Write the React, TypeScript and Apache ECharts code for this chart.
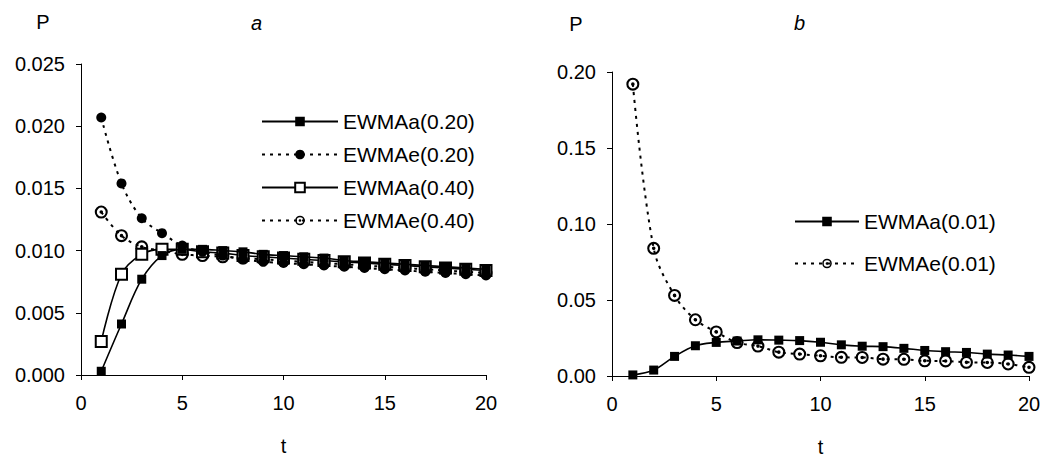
import React, { useEffect, useRef } from "react";
import * as echarts from "echarts";

const tValues = [1, 2, 3, 4, 5, 6, 7, 8, 9, 10, 11, 12, 13, 14, 15, 16, 17, 18, 19, 20];

// Panel a
const ewmaA020 = [0.0003, 0.0041, 0.0077, 0.0096, 0.0101, 0.0101, 0.0100, 0.0099, 0.0097, 0.0096, 0.0095, 0.0094, 0.0092, 0.0091, 0.0090, 0.0089, 0.0088, 0.0087, 0.0086, 0.0085];
const ewmaE020 = [0.0207, 0.0154, 0.0126, 0.0114, 0.0104, 0.0099, 0.0096, 0.0093, 0.0091, 0.0090, 0.0089, 0.0088, 0.0087, 0.0086, 0.0085, 0.0084, 0.0083, 0.0082, 0.0081, 0.0080];
const ewmaA040 = [0.0027, 0.0081, 0.0097, 0.0101, 0.0101, 0.0099, 0.0098, 0.0096, 0.0095, 0.0094, 0.0093, 0.0092, 0.0091, 0.0090, 0.0089, 0.0088, 0.0087, 0.0086, 0.0085, 0.0084];
const ewmaE040 = [0.0131, 0.0112, 0.0103, 0.0100, 0.0097, 0.0096, 0.0095, 0.0094, 0.0093, 0.0092, 0.0091, 0.0090, 0.0089, 0.0088, 0.0087, 0.0086, 0.0085, 0.0084, 0.0083, 0.0082];

// Panel b
const ewmaA001 = [0.0007, 0.0039, 0.0129, 0.0199, 0.0221, 0.0230, 0.0238, 0.0236, 0.0233, 0.0222, 0.0205, 0.0196, 0.0193, 0.0182, 0.0168, 0.0160, 0.0155, 0.0144, 0.0138, 0.0129];
const ewmaE001 = [0.192, 0.084, 0.053, 0.037, 0.029, 0.022, 0.0197, 0.0157, 0.0144, 0.0133, 0.0123, 0.0122, 0.0111, 0.0110, 0.0100, 0.0099, 0.0090, 0.0089, 0.0079, 0.0057];

const xTicks = { min: 0, max: 20, interval: 5 };
const yTicksA = { min: 0, max: 0.025, interval: 0.005 };
const yTicksB = { min: 0, max: 0.2, interval: 0.05 };

const FONT = "'Liberation Sans', Arial, sans-serif";
const RING_DOT =
  "path://M10,0 A10,10 0 1,1 10,20 A10,10 0 1,1 10,0 Z M10,3.2 A6.8,6.8 0 1,0 10,16.8 A6.8,6.8 0 1,0 10,3.2 Z M10,7.2 A2.8,2.8 0 1,1 10,12.8 A2.8,2.8 0 1,1 10,7.2 Z";

const pairs = (vals: number[]) => tValues.map((t, i) => [t, vals[i]]);

export default function App() {
  const ref = useRef<HTMLDivElement>(null);
  useEffect(() => {
    if (!ref.current) return;
    const chart = echarts.init(ref.current, undefined, { renderer: "svg" });
    const axisLine = { show: true, lineStyle: { color: "#000", width: 1 } };
    const axisTick = { show: true, length: 5, lineStyle: { color: "#000", width: 1 } };
    const labelStyle = { color: "#000", fontSize: 20, fontFamily: FONT };
    const xAxisBase = (gridIndex: number) => ({
      type: "value",
      gridIndex,
      ...xTicks,
      name: "t",
      nameLocation: "middle",
      nameGap: 61,
      nameTextStyle: { color: "#000", fontSize: 20, fontFamily: FONT },
      axisLine,
      axisTick,
      splitLine: { show: false },
      axisLabel: { ...labelStyle, margin: 18 },
    });
    const solid = { color: "#000", width: 1.6, type: "solid" };
    const dashed = { color: "#000", width: 2, type: [3, 5] };
    const option: any = {
      animation: false,
      backgroundColor: "#fff",
      textStyle: { fontFamily: FONT },
      title: [
        { text: "a", left: 246, top: 8, textStyle: { fontStyle: "italic", fontWeight: "normal", fontSize: 20, color: "#000", fontFamily: FONT } },
        { text: "b", left: 789, top: 8, textStyle: { fontStyle: "italic", fontWeight: "normal", fontSize: 20, color: "#000", fontFamily: FONT } },
      ],
      grid: [
        { left: 81, right: 558, top: 64, bottom: 84, outerBoundsMode: "none", containLabel: false },
        { left: 612, right: 15, top: 72, bottom: 83, outerBoundsMode: "none", containLabel: false },
      ],
      xAxis: [xAxisBase(0), xAxisBase(1)],
      yAxis: [
        {
          type: "value",
          gridIndex: 0,
          ...yTicksA,
          name: "P",
          nameLocation: "end",
          nameGap: 32,
          nameTextStyle: { color: "#000", fontSize: 20, fontFamily: FONT, padding: [0, 76, 0, 0] },
          axisLine,
          axisTick,
          splitLine: { show: false },
          axisLabel: { ...labelStyle, margin: 16, formatter: (v: number) => v.toFixed(3) },
        },
        {
          type: "value",
          gridIndex: 1,
          ...yTicksB,
          name: "P",
          nameLocation: "end",
          nameGap: 38,
          nameTextStyle: { color: "#000", fontSize: 20, fontFamily: FONT, padding: [0, 72, 0, 0] },
          axisLine,
          axisTick,
          splitLine: { show: false },
          axisLabel: { ...labelStyle, margin: 16, formatter: (v: number) => v.toFixed(2) },
        },
      ],
      legend: [
        {
          orient: "vertical",
          left: 261,
          top: 111,
          padding: 0,
          itemWidth: 76,
          itemHeight: 12,
          itemGap: 12,
          textStyle: { color: "#000", fontSize: 21, fontFamily: FONT },
          data: ["EWMAa(0.20)", "EWMAe(0.20)", "EWMAa(0.40)", "EWMAe(0.40)"],
        },
        {
          orient: "vertical",
          left: 794,
          top: 211,
          padding: 0,
          itemWidth: 64,
          itemHeight: 12,
          itemGap: 21,
          textStyle: { color: "#000", fontSize: 21, fontFamily: FONT },
          data: ["EWMAa(0.01)", "EWMAe(0.01)"],
        },
      ],
      series: [
        {
          name: "EWMAa(0.20)", type: "line", xAxisIndex: 0, yAxisIndex: 0, smooth: 0.35,
          data: pairs(ewmaA020), symbol: "rect", symbolSize: 9,
          itemStyle: { color: "#000" }, lineStyle: solid, z: 4,
        },
        {
          name: "EWMAe(0.20)", type: "line", xAxisIndex: 0, yAxisIndex: 0, smooth: 0.35,
          data: pairs(ewmaE020), symbol: "circle", symbolSize: 10,
          itemStyle: { color: "#000" }, lineStyle: dashed, z: 3,
        },
        {
          name: "EWMAa(0.40)", type: "line", xAxisIndex: 0, yAxisIndex: 0, smooth: 0.35,
          data: pairs(ewmaA040), symbol: "emptyRect", symbolSize: 11,
          itemStyle: { color: "#000", borderColor: "#000", borderWidth: 1.5 }, lineStyle: solid, z: 2,
        },
        {
          name: "EWMAe(0.40)", type: "line", xAxisIndex: 0, yAxisIndex: 0, smooth: 0.35,
          data: pairs(ewmaE040), symbol: RING_DOT, symbolSize: 13,
          itemStyle: { color: "#000" }, lineStyle: dashed, z: 1,
        },
        {
          name: "EWMAa(0.01)", type: "line", xAxisIndex: 1, yAxisIndex: 1, smooth: 0.35,
          data: pairs(ewmaA001), symbol: "rect", symbolSize: 9,
          itemStyle: { color: "#000" }, lineStyle: solid, z: 2,
        },
        {
          name: "EWMAe(0.01)", type: "line", xAxisIndex: 1, yAxisIndex: 1, smooth: 0.35,
          data: pairs(ewmaE001), symbol: RING_DOT, symbolSize: 13,
          itemStyle: { color: "#000" }, lineStyle: dashed, z: 1,
        },
      ],
    };
    chart.setOption(option);
    return () => chart.dispose();
  }, []);
  return (
    <div
      ref={ref}
      style={{ position: "fixed", left: 0, top: 0, width: 1044, height: 459, background: "#fff" }}
    />
  );
}
